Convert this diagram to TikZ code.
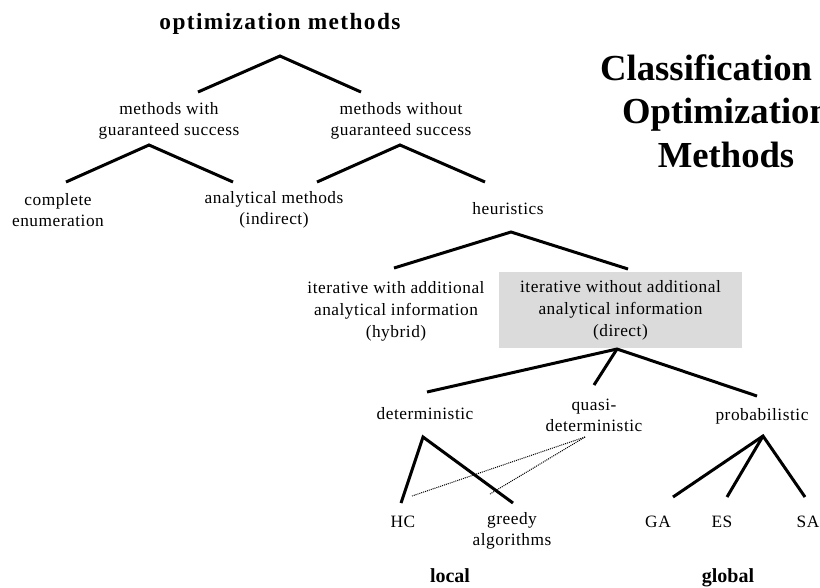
\documentclass[tikz,border=0pt]{standalone}
\usepackage{fontspec}
\setmainfont{Liberation Serif}
\tikzset{
  lbl/.style={font=\addfontfeatures{LetterSpace=3}\fontsize{13}{15.75}\selectfont, align=center, inner sep=0pt},
  hdr/.style={font=\bfseries\addfontfeatures{LetterSpace=6}\fontsize{17.5}{21}\selectfont, inner sep=0pt},
  foot/.style={font=\bfseries\fontsize{15}{18}\selectfont, inner sep=0pt},
  big/.style={font=\bfseries\fontsize{27.5}{32.6}\selectfont, align=center, inner sep=0pt},
  edge/.style={line width=2.25pt},
  dotedge/.style={line width=0.75pt, dash pattern=on 0.75pt off 0.75pt},
  graybox/.style={fill=black!14, minimum width=182.25pt, minimum height=57pt, inner sep=0pt, align=center, font=\addfontfeatures{LetterSpace=3}\fontsize{13}{16.5}\selectfont}
}
\begin{document}
\begin{tikzpicture}[x=0.75pt,y=-0.75pt]
\useasboundingbox (0,0) rectangle (820,587);
\clip (0,0) rectangle (820,587);
% titles
\node[hdr] (title) at (280,24) {optimization methods};
\node[big] (cls) at (726,111) {Classification of\\Optimization\\Methods};
% level 1
\node[lbl] (mw) at (169,121) {methods with\\guaranteed success};
\node[lbl] (mwo) at (401,121) {methods without\\guaranteed success};
% level 2
\node[lbl] (ce) at (58,210) {complete\\enumeration};
\node[lbl] (am) at (274,210) {analytical methods\\(indirect)};
\node[lbl] (heu) at (508,209) {heuristics};
% level 3
\node[lbl, font=\addfontfeatures{LetterSpace=3}\fontsize{13}{16.5}\selectfont] (ih) at (396,311) {iterative with additional\\analytical information\\(hybrid)};
\node[graybox] (iw) at (620.5,310) {iterative without additional\\analytical information\\(direct)};
% level 4
\node[lbl] (det) at (425,414) {deterministic};
\node[lbl] (qd) at (594,415) {quasi-\\deterministic};
\node[lbl] (prob) at (762,416) {probabilistic};
% leaves
\node[lbl] (hc) at (403,522) {HC};
\node[lbl] (gr) at (512,531) {greedy\\algorithms};
\node[lbl] (ga) at (658,522) {GA};
\node[lbl] (es) at (722,522) {ES};
\node[lbl] (sa) at (808,522) {SA};
\node[foot] (loc) at (450,576) {local};
\node[foot] (glo) at (728,578) {global};
% connector points
\coordinate (t0) at (280,56);
\coordinate (t1) at (198,92);
\coordinate (t2) at (361,92);
\coordinate (a0) at (149,145);
\coordinate (a1) at (66,182);
\coordinate (a2) at (233,182);
\coordinate (b0) at (400,145);
\coordinate (b1) at (317,182);
\coordinate (b2) at (485,182);
\coordinate (h0) at (511,232);
\coordinate (h1) at (394,268);
\coordinate (h2) at (628,269);
\coordinate (d0) at (617,349);
\coordinate (d1) at (427,392);
\coordinate (d2) at (594,385);
\coordinate (d3) at (757,396);
\coordinate (e0) at (423,437);
\coordinate (e1) at (401,503);
\coordinate (e2) at (513,503);
\coordinate (q0) at (585,437);
\coordinate (q1) at (412,496);
\coordinate (q2) at (490,494);
\coordinate (p0) at (763,436);
\coordinate (p1) at (673,497);
\coordinate (p2) at (727,497);
\coordinate (p3) at (805,497);
% connectors
\draw[edge] (t1) -- (t0) -- (t2);
\draw[edge] (a1) -- (a0) -- (a2);
\draw[edge] (b1) -- (b0) -- (b2);
\draw[edge] (h1) -- (h0) -- (h2);
\draw[edge] (d1) -- (d0) -- (d3);
\draw[edge] (d0) -- (d2);
\draw[edge] (e1) -- (e0) -- (e2);
\draw[dotedge] (q0) -- (q1);
\draw[dotedge] (q0) -- (q2);
\draw[edge] (p1) -- (p0) -- (p3);
\draw[edge] (p0) -- (p2);
\end{tikzpicture}
\end{document}
